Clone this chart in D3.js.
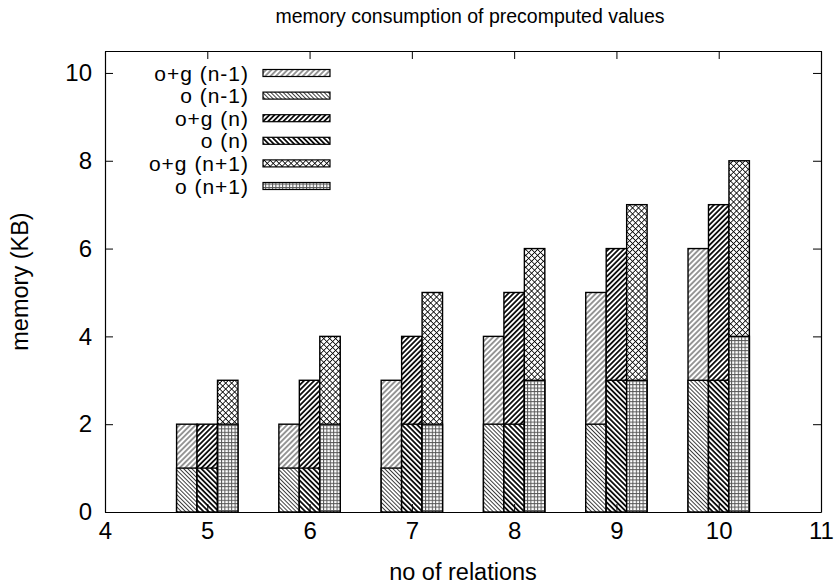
<!DOCTYPE html>
<html>
<head>
<meta charset="utf-8">
<script src="https://cdn.jsdelivr.net/npm/d3@7"></script>
<style>
  html, body { margin: 0; padding: 0; background: #fff; }
  text { font-family: "Liberation Sans", Arial, sans-serif; fill: #000; }
</style>
</head>
<body>
<svg id="chart" width="834" height="586"></svg>
<script>
// Number of relations on the x axis
const categories = [5, 6, 7, 8, 9, 10];

// Memory (KB) per variant; "o+g" totals are drawn behind the "o" part
const ogPrev = [2, 2, 3, 4, 5, 6];
const oPrev  = [1, 1, 1, 2, 2, 3];
const ogCur  = [2, 3, 4, 5, 6, 7];
const oCur   = [1, 1, 2, 2, 3, 3];
const ogNext = [3, 4, 5, 6, 7, 8];
const oNext  = [2, 2, 2, 3, 3, 4];

const seriesNames = ["o+g (n-1)", "o (n-1)", "o+g (n)", "o (n)", "o+g (n+1)", "o (n+1)"];
const xTicks = [4, 5, 6, 7, 8, 9, 10, 11];
const yTicks = [0, 2, 4, 6, 8, 10];

const svg = d3.select("#chart");
const margin = { left: 105, right: 13, top: 51, bottom: 74 };
const W = 834, H = 586;
const FONT = "'Liberation Sans', Arial, sans-serif";

const x = d3.scaleLinear().domain([4, 11]).range([margin.left, W - margin.right]);
const y = d3.scaleLinear().domain([0, 10.5]).range([H - margin.bottom, margin.top]);

// Fill patterns for the six series
const defs = svg.append("defs");
function linePattern(id, angle, period, width, color) {
  const p = defs.append("pattern").attr("id", id)
    .attr("patternUnits", "userSpaceOnUse")
    .attr("width", period).attr("height", period)
    .attr("patternTransform", `rotate(${angle})`);
  p.append("rect").attr("width", period).attr("height", period).attr("fill", "#fff");
  p.append("line").attr("x1", period / 2).attr("x2", period / 2)
    .attr("y1", 0).attr("y2", period)
    .attr("stroke", color).attr("stroke-width", width);
}
linePattern("pOgPrev", 45, 3.8, 0.8, "#000");
linePattern("pOPrev", -45, 2.9, 0.75, "#000");
linePattern("pOgCur", 45, 3.6, 1.7, "#000");
linePattern("pOCur", -45, 3.6, 1.7, "#000");
// cross-hatch
(function () {
  const per = 4.2;
  const p = defs.append("pattern").attr("id", "pOgNext")
    .attr("patternUnits", "userSpaceOnUse")
    .attr("width", per).attr("height", per)
    .attr("patternTransform", "rotate(45)");
  p.append("rect").attr("width", per).attr("height", per).attr("fill", "#fff");
  p.append("line").attr("x1", per / 2).attr("x2", per / 2).attr("y1", 0).attr("y2", per)
    .attr("stroke", "#000").attr("stroke-width", 0.8);
  p.append("line").attr("y1", per / 2).attr("y2", per / 2).attr("x1", 0).attr("x2", per)
    .attr("stroke", "#000").attr("stroke-width", 0.8);
})();
// square grid
(function () {
  const per = 3.4;
  const p = defs.append("pattern").attr("id", "pONext")
    .attr("patternUnits", "userSpaceOnUse")
    .attr("width", per).attr("height", per);
  p.append("rect").attr("width", per).attr("height", per).attr("fill", "#fff");
  p.append("line").attr("x1", 0.5).attr("x2", 0.5).attr("y1", 0).attr("y2", per)
    .attr("stroke", "#555").attr("stroke-width", 1);
  p.append("line").attr("y1", 0.5).attr("y2", 0.5).attr("x1", 0).attr("x2", per)
    .attr("stroke", "#555").attr("stroke-width", 1);
})();

const fills = ["url(#pOgPrev)", "url(#pOPrev)", "url(#pOgCur)", "url(#pOCur)", "url(#pOgNext)", "url(#pONext)"];

// Bar groups: offset and width in x-units
const barW = 0.2;
const groups = [
  { offset: -0.2, total: ogPrev, base: oPrev, fillTotal: fills[0], fillBase: fills[1] },
  { offset: 0.0,  total: ogCur,  base: oCur,  fillTotal: fills[2], fillBase: fills[3] },
  { offset: 0.2,  total: ogNext, base: oNext, fillTotal: fills[4], fillBase: fills[5] }
];

const bars = svg.append("g");
groups.forEach(g => {
  const totalRects = categories.map((c, i) => ({ c, v: g.total[i] }));
  const baseRects = categories.map((c, i) => ({ c, v: g.base[i] }));
  [[totalRects, g.fillTotal], [baseRects, g.fillBase]].forEach(([data, fill]) => {
    bars.selectAll(null).data(data).enter().append("rect")
      .attr("x", d => x(d.c + g.offset - barW / 2))
      .attr("width", d => x(d.c + g.offset + barW / 2) - x(d.c + g.offset - barW / 2))
      .attr("y", d => y(d.v))
      .attr("height", d => y(0) - y(d.v))
      .attr("fill", fill)
      .attr("stroke", "#000")
      .attr("stroke-width", 1.4);
  });
});

// Frame and inward ticks on all sides
const axes = svg.append("g");
const tickLen = 8;
axes.append("g").attr("transform", `translate(0,${y(0)})`)
  .call(d3.axisBottom(x).tickValues(xTicks).tickSizeInner(-tickLen).tickSizeOuter(0).tickPadding(10).tickFormat(d3.format("d")));
axes.append("g").attr("transform", `translate(0,${y(10.5)})`)
  .call(d3.axisTop(x).tickValues(xTicks).tickSizeInner(-tickLen).tickSizeOuter(0).tickFormat(""));
axes.append("g").attr("transform", `translate(${x(4)},0)`)
  .call(d3.axisLeft(y).tickValues(yTicks).tickSizeInner(-tickLen).tickSizeOuter(0).tickPadding(13).tickFormat(d3.format("d")));
axes.append("g").attr("transform", `translate(${x(11)},0)`)
  .call(d3.axisRight(y).tickValues(yTicks).tickSizeInner(-tickLen).tickSizeOuter(0).tickFormat(""));
axes.selectAll(".domain").attr("stroke", "#000").attr("stroke-width", 1.2);
axes.selectAll(".tick line").attr("stroke", "#000").attr("stroke-width", 1);
axes.selectAll(".tick text").style("font-family", FONT).style("font-size", "24px").attr("fill", "#000");

// Titles
svg.append("text").attr("x", 470).attr("y", 23)
  .attr("text-anchor", "middle").style("font-size", "19.5px")
  .text("memory consumption of precomputed values");
svg.append("text").attr("x", (x(4) + x(11)) / 2).attr("y", 580)
  .attr("text-anchor", "middle").style("font-size", "23.5px")
  .text("no of relations");
svg.append("text")
  .attr("transform", `translate(28,${(y(0) + y(10.5)) / 2}) rotate(-90)`)
  .attr("text-anchor", "middle").style("font-size", "23.5px")
  .text("memory (KB)");

// Legend
const legend = svg.append("g");
seriesNames.forEach((name, i) => {
  const cy = 73 + i * 22.6;
  legend.append("text").attr("x", 249).attr("y", cy).attr("dy", "0.36em")
    .attr("text-anchor", "end").style("font-size", "21px").style("letter-spacing", "1px")
    .text(name);
  legend.append("rect").attr("x", 263).attr("y", cy - 3.5).attr("width", 67).attr("height", 7)
    .attr("fill", fills[i]).attr("stroke", "#000").attr("stroke-width", 1.2);
});
</script>
</body>
</html>
